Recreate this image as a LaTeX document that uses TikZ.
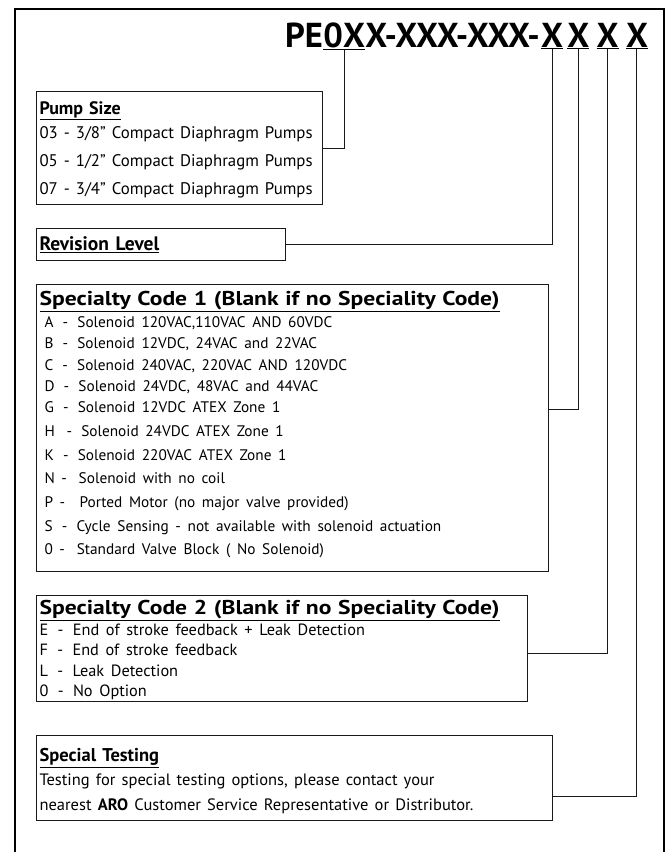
\documentclass[tikz,border=0pt]{standalone}
\usepackage{fontspec}
\setmainfont{PT Sans}
\newfontfamily\widehdr[FakeStretch=1.18]{PT Sans}
\usetikzlibrary{positioning}
\newcommand{\hdr}[1]{\underline{\textbf{#1}}}
\begin{document}
\begin{tikzpicture}[x=1pt,y=-1pt]
	\tikzstyle{partno}=[inner sep=0pt,font=\bfseries\fontsize{34.6}{34.6}\selectfont]
	\tikzstyle{codebox}=[draw=black!90,line width=1pt,anchor=north west,align=left,inner xsep=3pt,inner ysep=2pt]
	\tikzstyle{link}=[draw=black!90,line width=1pt]
	\useasboundingbox (0,0) rectangle (667,852);
	\draw[line width=1.6pt] (15,852) |- (664,9) -- (664,852);

	\node [partno,anchor=base west] (pe) at (285,47) {PE};
	\node [partno,base right=0pt of pe] (sz) {\underline{0X}};
	\node [partno,base right=0pt of sz] (mid) {X-XXX-XXX-};
	\node [partno,base right=1pt of mid] (rv) {\underline{X}};
	\node [partno,base right=4pt of rv] (sp1) {\underline{X}};
	\node [partno,base right=7pt of sp1] (sp2) {\underline{X}};
	\node [partno,base right=7pt of sp2] (st) {\underline{X}};

	\node [codebox,text width=280,minimum height=113,font=\fontsize{18}{28}\selectfont] (pump) at (36,91)
		{\rule{0pt}{16pt}\hdr{Pump Size}\\[-4pt]
		\fontsize{16.8}{28}\selectfont 03 - 3/8” Compact Diaphragm Pumps\\
		05 - 1/2” Compact Diaphragm Pumps\\
		07 - 3/4” Compact Diaphragm Pumps};
	\node [codebox,text width=243,minimum height=32,font=\fontsize{19.5}{20}\selectfont] (rev) at (36,228)
		{\hdr{Revision Level}};
	\node [codebox,text width=506,minimum height=287,font=\widehdr\fontsize{20}{21.3}\selectfont] (spec1) at (36,284)
		{\hdr{Specialty Code 1 (Blank if no Speciality Code)}\\[1pt]
		\normalfont\fontsize{15.3}{21.3}\selectfont
		\hspace{5pt}A \,- \,Solenoid 120VAC,110VAC AND 60VDC\\
		\hspace{5pt}B \,- \,Solenoid 12VDC, 24VAC and 22VAC\\
		\hspace{5pt}C \,- \,Solenoid 240VAC, 220VAC AND 120VDC\\
		\hspace{5pt}D \,- \,Solenoid 24VDC, 48VAC and 44VAC\\
		\hspace{5pt}G \,- \,Solenoid 12VDC ATEX Zone 1\\[2.4pt]
		\hspace{5pt}H \,\,- \,Solenoid 24VDC ATEX Zone 1\\[2.4pt]
		\hspace{5pt}K \,- \,Solenoid 220VAC ATEX Zone 1\\[2.4pt]
		\hspace{5pt}N - \,\,Solenoid with no coil\\[2.4pt]
		\hspace{5pt}P - \,\,\,Ported Motor (no major valve provided)\\[2.4pt]
		\hspace{5pt}S \,- \,Cycle Sensing - not available with solenoid actuation\\[2.4pt]
		\hspace{5pt}0 - \,\,Standard Valve Block ( No Solenoid)\\[-11pt]\mbox{}};
	\node [codebox,text width=485,minimum height=99,font=\widehdr\fontsize{20}{20.5}\selectfont] (spec2) at (36,595)
		{\rule{0pt}{17pt}\hdr{Specialty Code 2 (Blank if no Speciality Code)}\\[0pt]
		\normalfont\fontsize{16.3}{20.5}\selectfont
		E \,- \,End of stroke feedback + Leak Detection\\
		F \,- \,End of stroke feedback\\
		L \,- \,Leak Detection\\
		0 \,- \,No Option};
	\node [codebox,text width=510,minimum height=85,font=\fontsize{18.5}{25}\selectfont] (test) at (36,735)
		{\rule{0pt}{20pt}\hdr{Special Testing}\\[-1pt]
		\fontsize{16.5}{25}\selectfont
		Testing for special testing options, please contact your\\
		nearest \textbf{ARO} Customer Service Representative or Distributor.};

	\path[link] (sz.south) |- (pump.east);
	\path[link] (rv.south) |- (rev.east);
	\path[link] (sp1.south) |- ([yshift=19pt]spec1.east);
	\path[link] (sp2.south) |- ([yshift=-5pt]spec2.east);
	\path[link] (st.south) |- ([yshift=-18pt]test.east);
\end{tikzpicture}
\end{document}
